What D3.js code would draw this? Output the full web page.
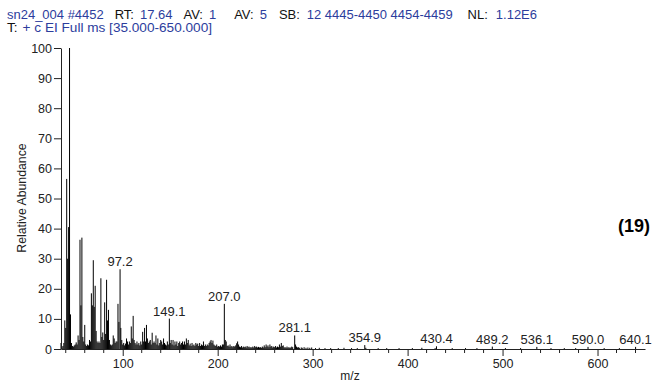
<!DOCTYPE html>
<html><head><meta charset="utf-8">
<script src="https://cdn.jsdelivr.net/npm/d3@7"></script>
<style>
html,body{margin:0;padding:0;background:#fff;}
svg{display:block;font-family:"Liberation Sans",Arial,sans-serif;}
</style></head>
<body>
<svg id="chart" width="652" height="383"></svg>
<script>
// ---- data ----
const mzValues = [35,36,37,38,39,40,41,42,43,44,45,46,47,48,49,50,51,52,53,54,55,56,57,58,59,60,61,62,63,64,65,66,67,68,69,70,71,72,73,74,75,76,77,78,79,80,81,82,83,84,85,86,87,88,89,90,91,92,93,94,95,96,97.2,98,99,100,101,102,103,104,105,106,107,108,109,110,111,112,113,114,115,116,117,118,119,120,121,122,123,124,125,126,127,128,129,130,131,132,133,134,135,136,137,138,139,140,141,142,143,144,145,146,147,148,149.1,150,151,152,153,154,155,156,157,158,159,160,161,162,163,164,165,166,167,168,169,170,171,172,173,174,175,176,177,178,179,180,181,182,183,184,185,186,187,188,189,190,191,192,193,194,195,196,197,198,199,200,201,202,203,204,205,206,207.0,208,209,210,211,212,213,214,215,216,217,218,219,220,221,222,223,224,225,226,227,228,229,230,231,232,233,234,235,236,237,238,239,240,241,242,243,244,245,246,247,248,249,250,251,252,253,254,255,256,257,258,259,260,261,262,263,264,265,266,267,268,269,270,271,272,273,274,275,276,277,278,279,281.1,282,283,284,285,286,288,289,291,293,295,297,299,303,307,313,319,327,333,341,347,354.9,356,369,378,391,405,415,429,430.4,447,461,473,489.2,503,519,536.1,551,565,577,590.0,607,623,640.1];
const abundances = [2,0.5,1,2,9.5,7,56.5,30,40.5,100,11.5,2,1,0.8,1.2,1.5,2.2,1.5,4.5,3,36.3,14.5,37,4,2.5,8,1.5,1,1.5,1.2,3,2.5,18.5,14.5,29.5,14,21,6,2.5,2,2.5,2,23.5,4,5.5,3,15.5,5,23,9.5,13,3,1.5,1.2,1.5,4.5,3.5,2,2.5,2.5,15,9,26.5,7,3,1.5,2,1.2,1.8,3.5,2.5,1.5,2.5,2,7.5,3.5,11,3,2,1.5,2.5,1.5,2,1.2,2.5,1.5,5.7,2.5,7,2.5,8,3.5,2,2.5,3,1.5,5.4,2,2.5,2,4.5,1.5,3.5,1.2,2,3,2.5,1.5,3.5,2,1.5,1.2,2.5,1.5,10.1,2,3,1.5,3,1.2,2.5,1.5,2.5,1,2,2.5,1.5,2,2.5,1.5,2.5,1.5,3.5,2,3,1.2,1.8,1,2,1.2,1.5,1,2,1.5,1.8,1,2,1,1.5,1.2,2.5,1,1.5,1,1.5,1.2,2,2.5,3,2,2.8,1.5,1.2,1,1.5,0.8,1,0.8,1.2,0.8,1.5,1.5,15,3,2.5,1,1.2,0.8,1.5,0.8,1,0.6,1,0.8,1.2,1.9,2.5,1.5,0.8,0.6,1,0.5,0.8,0.6,0.8,0.5,1,0.6,0.8,0.5,0.6,0.5,0.8,0.5,1,0.6,0.8,0.5,0.7,0.5,0.6,0.4,0.8,0.5,1.2,0.6,1.5,0.8,1.2,0.6,1.5,0.8,1,0.5,0.8,0.6,1,0.5,0.8,0.6,1.5,0.8,2,1,1.2,0.5,0.6,0.4,0.8,0.4,0.6,0.4,0.5,0.8,0.6,4.5,1.5,0.8,0.5,0.6,0.4,0.5,0.4,0.6,0.4,0.5,0.4,0.5,0.3,0.4,0.3,0.3,0.3,0.4,0.3,0.3,1.3,0.4,0.3,0.3,0.3,0.3,0.4,0.3,0.9,0.3,0.3,0.3,0.8,0.3,0.3,0.7,0.3,0.3,0.3,0.7,0.3,0.3,0.7];
const peakLabels = ["97.2","149.1","207.0","281.1","354.9","430.4","489.2","536.1","590.0","640.1"];
const yTicks = [0,10,20,30,40,50,60,70,80,90,100];
const xMajorTicks = [100,200,300,400,500,600];
const xMinorTicks = [40,60,80,120,140,160,180,220,240,260,280,320,340,360,380,420,440,460,480,520,540,560,580,620,640];
// [text, isValue(blue), gapBefore(px)]
const headerLine1 = [["sn24_004 #4452",1,0],["RT:",0,11],["17.64",1,6],["AV:",0,11],["1",1,6],["AV:",0,18],["5",1,6],["SB:",0,12],["12 4445-4450 4454-4459",1,7],["NL:",0,15],["1.12E6",1,8]];
const headerLine2 = [["T:",0,0],["+ c EI Full ms [35.000-650.000]",1,5]];
const xTitle = "m/z", yTitle = "Relative Abundance", figLabel = "(19)";

// ---- drawing ----
const svg = d3.select("#chart");
const blue = "#2c3d9d";
const x = d3.scaleLinear().domain([35,650]).range([61,645]);
const y = d3.scaleLinear().domain([0,100]).range([349,48]);

function header(parts, yy, targetW){
  const g = svg.append("g");
  const texts = parts.map(p => g.append("text").attr("y",yy).attr("font-size",12)
      .attr("fill",p[1]?blue:"#111").text(p[0]));
  const widths = texts.map(t => t.node().getComputedTextLength());
  const gaps = d3.sum(parts, p => p[2]);
  const s = (targetW - gaps) / d3.sum(widths);
  let cx = 7;
  texts.forEach((t,i) => {
    cx += parts[i][2];
    t.attr("x",cx).attr("textLength",widths[i]*s).attr("lengthAdjust","spacingAndGlyphs");
    cx += widths[i]*s;
  });
}
header(headerLine1, 18.5, 530);
header(headerLine2, 32, 205);

// peaks
svg.append("g").selectAll("line").data(mzValues).join("line")
  .attr("x1",d=>x(d)).attr("x2",d=>x(d))
  .attr("y1",y(0)).attr("y2",(d,i)=>y(abundances[i]))
  .attr("stroke","#000").attr("stroke-width",1);

// y axis
const ya = svg.append("g").attr("transform",`translate(${x(35)},0)`)
  .call(d3.axisLeft(y).tickValues(yTicks).tickSize(7).tickSizeOuter(0).tickPadding(2));
ya.selectAll("text").attr("font-size",12.5).attr("font-family","Liberation Sans, Arial, sans-serif").attr("fill","#222");
ya.selectAll("line,path").attr("stroke","#222");

// x axis
const xa = svg.append("g").attr("transform",`translate(0,${y(0)})`)
  .call(d3.axisBottom(x).tickValues(xMajorTicks).tickSize(7).tickSizeOuter(0).tickPadding(3));
xa.selectAll("text").attr("font-size",12.5).attr("font-family","Liberation Sans, Arial, sans-serif").attr("fill","#222");
xa.selectAll("line,path").attr("stroke","#222");
xa.append("g").selectAll("line").data(xMinorTicks).join("line")
  .attr("x1",d=>x(d)).attr("x2",d=>x(d)).attr("y1",0).attr("y2",4).attr("stroke","#222");

// peak labels
svg.append("g").selectAll("text").data(peakLabels).join("text")
  .attr("x",d=>x(+d))
  .attr("y",d=>{const i=mzValues.indexOf(+d); return y(abundances[i])-3;})
  .attr("text-anchor","middle").attr("font-size",13).attr("fill","#222").text(d=>d);

// titles
svg.append("text").attr("x",350).attr("y",380).attr("text-anchor","middle").attr("font-size",12).attr("fill","#222").text(xTitle);
svg.append("text").attr("transform","translate(26,198) rotate(-90)").attr("text-anchor","middle").attr("font-size",12.3).attr("fill","#222").text(yTitle);
svg.append("text").attr("x",650).attr("y",232).attr("text-anchor","end").attr("font-size",18).attr("font-weight","bold").attr("fill","#000").text(figLabel);
</script>
</body></html>
